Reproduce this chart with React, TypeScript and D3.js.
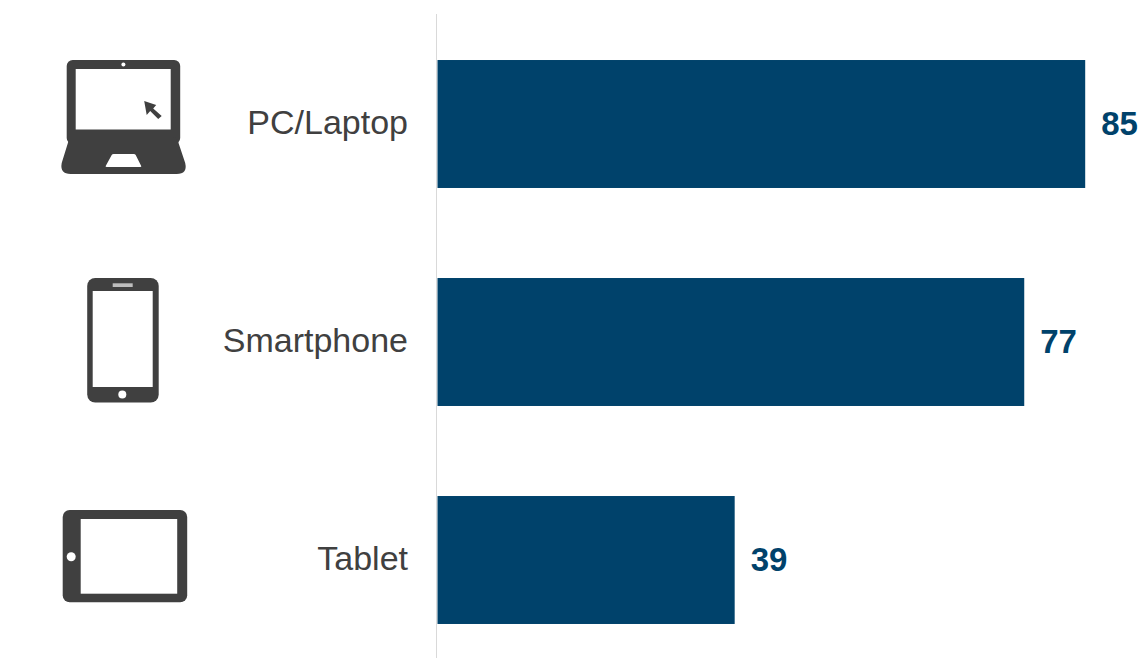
import React from "react";
import * as d3 from "d3";

const categories = ["PC/Laptop", "Smartphone", "Tablet"];
const values = [85, 77, 39];

const WIDTH = 1143;
const HEIGHT = 658;
const BAR_COLOR = "#00426b";
const ICON_COLOR = "#404040";
const FONT = "'Liberation Sans', Arial, sans-serif";

const x = d3.scaleLinear().domain([0, 100]).range([437.5, 1199.5]);
const y = d3
  .scaleBand<string>()
  .domain(categories)
  .range([15, 669])
  .paddingInner(0.413)
  .paddingOuter(0.2065);

// Device glyphs are drawn around their own centre, then placed on each band.
function LaptopIcon() {
  return (
    <g>
      <rect x={-57} y={-64} width={113.5} height={84} rx={6} fill={ICON_COLOR} />
      <rect x={-48} y={-55} width={95} height={60.5} fill="#fff" />
      <circle cx={-0.3} cy={-59.4} r={2} fill="#fff" />
      <path
        d="M-50,13 L49,13 Q53,13 54.5,18 L61.5,39 Q64,50 53,50 L-53,50 Q-64,50 -62,39 L-55.5,18 Q-54,13 -50,13 Z"
        fill={ICON_COLOR}
      />
      <path
        d="M-10,30 Q-11.5,30 -12,31 L-18,42 Q-18.5,43 -17,43 L16.5,43 Q18,43 17.5,42 L12,31 Q11.5,30 10,30 Z"
        fill="#fff"
      />
      <path
        d="M20.5,-23 L32.5,-19 L29.5,-15.5 L38,-8 L34.5,-5 L26.5,-13 L23,-9 Z"
        fill={ICON_COLOR}
      />
    </g>
  );
}

function PhoneIcon() {
  return (
    <g>
      <rect x={-36.5} y={-64} width={71.5} height={124.5} rx={8} fill={ICON_COLOR} />
      <rect x={-31} y={-51} width={60} height={96} fill="#fff" />
      <rect x={-11} y={-58.7} width={20} height={3.7} fill="#bdbdbd" />
      <circle cx={-1.4} cy={52.4} r={4} fill="#fff" />
    </g>
  );
}

function TabletIcon() {
  return (
    <g>
      <rect x={-61} y={-50} width={124.5} height={92.3} rx={7} fill={ICON_COLOR} />
      <rect x={-43} y={-41} width={96.5} height={74.7} fill="#fff" />
      <circle cx={-52.5} cy={-3.3} r={4.5} fill="#fff" />
    </g>
  );
}

const icons = [LaptopIcon, PhoneIcon, TabletIcon];

export default function App() {
  return (
    <svg
      width={WIDTH}
      height={HEIGHT}
      viewBox={`0 0 ${WIDTH} ${HEIGHT}`}
      style={{ position: "absolute", left: 0, top: 0, background: "#fff" }}
    >
      <line x1={436.5} x2={436.5} y1={14} y2={HEIGHT} stroke="#d9d9d9" strokeWidth={1} />
      {categories.map((category, i) => {
        const top = y(category) as number;
        const mid = top + y.bandwidth() / 2;
        const Icon = icons[i];
        return (
          <g key={category}>
            <rect x={x(0)} y={top} width={x(values[i]) - x(0)} height={y.bandwidth()} fill={BAR_COLOR} />
            <text
              x={408}
              y={mid - 1.5}
              dy="0.35em"
              textAnchor="end"
              fontFamily={FONT}
              fontSize={34}
              fill={ICON_COLOR}
            >
              {category}
            </text>
            <text
              x={x(values[i]) + 16}
              y={mid - 1}
              dy="0.35em"
              fontFamily={FONT}
              fontSize={33}
              fontWeight="bold"
              fill={BAR_COLOR}
            >
              {values[i]}
            </text>
            <g transform={`translate(123.7,${mid})`}>
              <Icon />
            </g>
          </g>
        );
      })}
    </svg>
  );
}
